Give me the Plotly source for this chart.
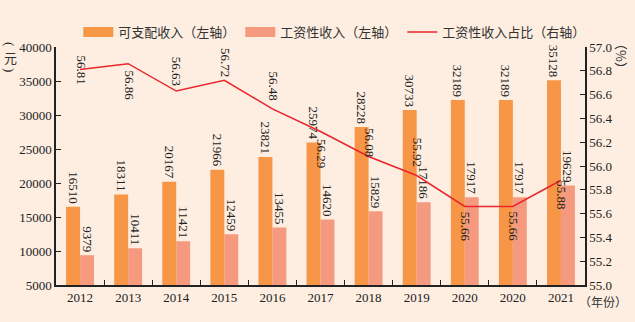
import plotly.graph_objects as go

# ---- data ----
years = ["2012", "2013", "2014", "2015", "2016", "2017", "2018", "2019", "2020", "2020", "2021"]
disposable = [16510, 18311, 20167, 21966, 23821, 25974, 28228, 30733, 32189, 32189, 35128]
wage = [9379, 10411, 11421, 12459, 13455, 14620, 15829, 17186, 17917, 17917, 19629]
ratio = [56.81, 56.86, 56.63, 56.72, 56.48, 56.29, 56.08, 55.92, 55.66, 55.66, 55.88]

# label offsets for the ratio labels (pixels, styling only)
ratio_label_shift = [0, -22, 20, 18, 23, -22, 14, 23, -20, -20, -15]

keys = [f"{y}_{i}" for i, y in enumerate(years)]

ORANGE = "#F79646"
SALMON = "#F59A7F"
RED = "#E8262C"
BG = "#FDEEE1"
NUM_FONT = dict(family="Liberation Serif", size=13, color="#222222")
CJK_FONT = dict(family="Noto Sans CJK SC", size=13, color="#333333")

fig = go.Figure()

fig.add_trace(go.Bar(
    x=keys, y=disposable, marker=dict(color=ORANGE, line=dict(width=0)),
    text=[str(v) for v in disposable], textposition="outside", textangle=90,
    constraintext="none", cliponaxis=False, textfont=NUM_FONT,
    showlegend=False, name="可支配收入（左轴）",
))
fig.add_trace(go.Bar(
    x=keys, y=wage, marker=dict(color=SALMON, line=dict(width=0)),
    text=[str(v) for v in wage], textposition="outside", textangle=90,
    constraintext="none", cliponaxis=False, textfont=NUM_FONT,
    showlegend=False, name="工资性收入（左轴）",
))

# legend proxies (wide rectangular swatches)
fig.add_trace(go.Scatter(x=[keys[0]], y=[None], mode="lines",
                         line=dict(color=ORANGE, width=11), name="可支配收入（左轴）"))
fig.add_trace(go.Scatter(x=[keys[0]], y=[None], mode="lines",
                         line=dict(color=SALMON, width=11), name="工资性收入（左轴）"))

fig.add_trace(go.Scatter(
    x=keys, y=ratio, yaxis="y2", mode="lines",
    line=dict(color=RED, width=1.5), name="工资性收入占比（右轴）",
    cliponaxis=False,
))

for k, v, s in zip(keys, ratio, ratio_label_shift):
    fig.add_annotation(x=k, y=v, xref="x", yref="y2", text=f"{v:.2f}",
                       textangle=90, showarrow=False, yshift=s, xshift=1,
                       font=NUM_FONT)

# left axis title, stacked vertically: （ 元 ）
for txt, ys, ang, fnt in [("(", 3, 90, NUM_FONT), ("元", -10, 0, CJK_FONT), (")", -23, 90, NUM_FONT)]:
    fig.add_annotation(xref="paper", yref="paper", x=0, y=1, xshift=-46, yshift=ys,
                       text=txt, textangle=ang, showarrow=False, font=fnt,
                       xanchor="center", yanchor="middle")
fig.add_annotation(xref="paper", yref="paper", x=1, y=1, xshift=37, yshift=-9,
                   text="（%）", textangle=90, showarrow=False, font=CJK_FONT,
                   xanchor="center", yanchor="middle")
fig.add_annotation(xref="paper", yref="paper", x=1, y=0, xshift=18, yshift=-16,
                   text="（年份）", showarrow=False,
                   font=dict(family="Noto Sans CJK SC", size=12, color="#333333"),
                   xanchor="center", yanchor="middle")

fig.update_layout(
    width=635, height=322,
    margin=dict(l=56, r=50, t=47, b=37),
    paper_bgcolor=BG, plot_bgcolor=BG,
    barmode="group", bargap=0.42, bargroupgap=0,
    showlegend=True,
    legend=dict(orientation="h", x=0.527, xanchor="center", y=1.063, yanchor="middle",
                font=CJK_FONT, bgcolor="rgba(0,0,0,0)", traceorder="normal"),
    xaxis=dict(type="category", categoryorder="array", categoryarray=keys,
               tickmode="array", tickvals=keys, ticktext=years,
               tickson="boundaries", ticks="inside", ticklen=5, tickcolor="#222",
               showline=True, linecolor="#222", linewidth=1.5,
               showgrid=False, zeroline=False, tickfont=NUM_FONT),
    yaxis=dict(range=[5000, 40000], dtick=5000, tick0=5000, tickformat="d",
               ticks="inside", ticklen=5, tickcolor="#222",
               showline=True, linecolor="#222", linewidth=1.5,
               showgrid=False, zeroline=False, tickfont=NUM_FONT),
    yaxis2=dict(range=[55, 57], dtick=0.2, tick0=55, tickformat=".1f",
                overlaying="y", side="right",
                ticks="inside", ticklen=5, tickcolor="#222",
                showline=True, linecolor="#222", linewidth=1.5,
                showgrid=False, zeroline=False, tickfont=NUM_FONT),
)

fig.write_html("out.html")
